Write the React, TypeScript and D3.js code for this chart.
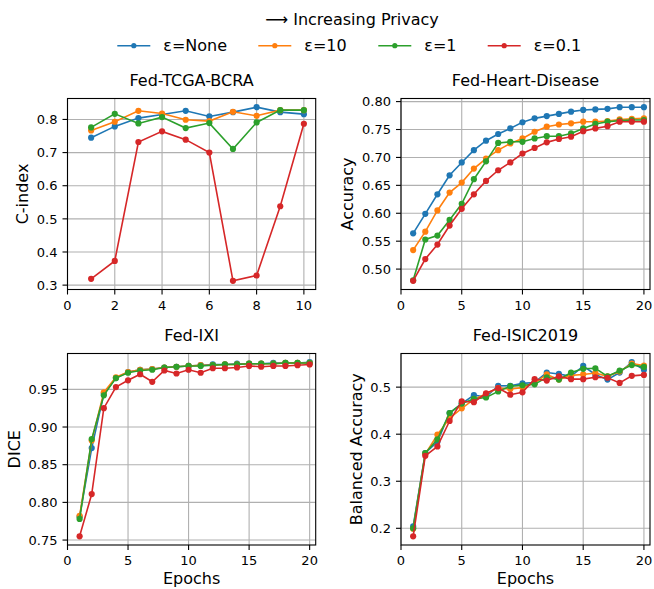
import * as d3 from "d3";

// epochs
const epochs10 = [1, 2, 3, 4, 5, 6, 7, 8, 9, 10];
const epochs20 = [1, 2, 3, 4, 5, 6, 7, 8, 9, 10, 11, 12, 13, 14, 15, 16, 17, 18, 19, 20];

const seriesNames = ["ε=None", "ε=10", "ε=1", "ε=0.1"];
const seriesColors = ["#1f77b4", "#ff7f0e", "#2ca02c", "#d62728"];

// Fed-TCGA-BCRA (C-index)
const tcgaNone = [0.745, 0.779, 0.804, 0.815, 0.826, 0.809, 0.822, 0.837, 0.822, 0.816];
const tcga10 = [0.767, 0.793, 0.826, 0.818, 0.799, 0.795, 0.823, 0.811, 0.828, 0.828];
const tcga1 = [0.776, 0.817, 0.788, 0.807, 0.774, 0.789, 0.711, 0.791, 0.828, 0.828];
const tcga01 = [0.319, 0.373, 0.732, 0.764, 0.739, 0.7, 0.313, 0.329, 0.538, 0.787];

// Fed-Heart-Disease (Accuracy)
const heartNone = [0.564, 0.599, 0.634, 0.668, 0.691, 0.713, 0.73, 0.742, 0.752, 0.763, 0.77, 0.774, 0.778, 0.782, 0.785, 0.786, 0.787, 0.79, 0.79, 0.79];
const heart10 = [0.534, 0.567, 0.605, 0.637, 0.655, 0.68, 0.698, 0.713, 0.725, 0.734, 0.746, 0.755, 0.759, 0.761, 0.764, 0.764, 0.765, 0.768, 0.769, 0.77];
const heart1 = [0.48, 0.553, 0.56, 0.588, 0.617, 0.661, 0.693, 0.726, 0.728, 0.728, 0.734, 0.738, 0.738, 0.743, 0.752, 0.76, 0.764, 0.766, 0.767, 0.767];
const heart01 = [0.479, 0.518, 0.544, 0.578, 0.608, 0.634, 0.658, 0.677, 0.691, 0.707, 0.717, 0.727, 0.733, 0.737, 0.747, 0.752, 0.756, 0.764, 0.764, 0.764];

// Fed-IXI (DICE)
const ixiNone = [0.781, 0.872, 0.944, 0.965, 0.973, 0.976, 0.977, 0.979, 0.98, 0.981, 0.982, 0.983, 0.983, 0.984, 0.984, 0.984, 0.985, 0.985, 0.985, 0.986];
const ixi10 = [0.782, 0.882, 0.946, 0.966, 0.973, 0.976, 0.977, 0.979, 0.98, 0.981, 0.982, 0.982, 0.983, 0.983, 0.984, 0.984, 0.984, 0.985, 0.985, 0.985];
const ixi1 = [0.778, 0.884, 0.942, 0.965, 0.972, 0.975, 0.976, 0.979, 0.98, 0.981, 0.981, 0.982, 0.983, 0.983, 0.984, 0.984, 0.984, 0.985, 0.985, 0.985];
const ixi01 = [0.755, 0.811, 0.925, 0.953, 0.962, 0.97, 0.96, 0.975, 0.971, 0.976, 0.972, 0.978, 0.978, 0.979, 0.981, 0.98, 0.981, 0.981, 0.982, 0.983];

// Fed-ISIC2019 (Balanced Accuracy)
const isicNone = [0.204, 0.36, 0.384, 0.445, 0.465, 0.483, 0.479, 0.503, 0.503, 0.508, 0.51, 0.531, 0.528, 0.523, 0.545, 0.527, 0.516, 0.531, 0.553, 0.537];
const isic10 = [0.199, 0.358, 0.399, 0.434, 0.455, 0.474, 0.486, 0.498, 0.496, 0.499, 0.509, 0.527, 0.516, 0.525, 0.527, 0.53, 0.523, 0.533, 0.55, 0.546];
const isic1 = [0.2, 0.36, 0.389, 0.445, 0.465, 0.475, 0.478, 0.491, 0.502, 0.504, 0.506, 0.521, 0.516, 0.531, 0.539, 0.54, 0.523, 0.535, 0.547, 0.543];
const isic01 = [0.183, 0.354, 0.374, 0.428, 0.47, 0.468, 0.487, 0.498, 0.484, 0.489, 0.517, 0.514, 0.523, 0.517, 0.517, 0.521, 0.52, 0.509, 0.524, 0.526];

// tick labels
const xTicks10 = [0, 2, 4, 6, 8, 10];
const xTicks20 = [0, 5, 10, 15, 20];
const yTicksTcga = [0.3, 0.4, 0.5, 0.6, 0.7, 0.8];
const yTicksHeart = [0.5, 0.55, 0.6, 0.65, 0.7, 0.75, 0.8];
const yTicksIxi = [0.75, 0.8, 0.85, 0.9, 0.95];
const yTicksIsic = [0.2, 0.3, 0.4, 0.5];

const W = 654;
const H = 589;
const FONT = "DejaVu Sans, sans-serif";
const TICK_FS = 13;
const LABEL_FS = 16;

const panels = [
  { title: "Fed-TCGA-BCRA", ylabel: "C-index", x: epochs10, series: [tcgaNone, tcga10, tcga1, tcga01], xTicks: xTicks10, xMax: 10.5, yTicks: yTicksTcga, yFmt: ".1f", box: [67.5, 98.5, 315.7, 289.5], xlabel: false },
  { title: "Fed-Heart-Disease", ylabel: "Accuracy", x: epochs20, series: [heartNone, heart10, heart1, heart01], xTicks: xTicks20, xMax: 20.5, yTicks: yTicksHeart, yFmt: ".2f", box: [401, 98.5, 650, 289.5], xlabel: false },
  { title: "Fed-IXI", ylabel: "DICE", x: epochs20, series: [ixiNone, ixi10, ixi1, ixi01], xTicks: xTicks20, xMax: 20.5, yTicks: yTicksIxi, yFmt: ".2f", box: [67.5, 353.5, 315.7, 545], xlabel: true },
  { title: "Fed-ISIC2019", ylabel: "Balanced Accuracy", x: epochs20, series: [isicNone, isic10, isic1, isic01], xTicks: xTicks20, xMax: 20.5, yTicks: yTicksIsic, yFmt: ".1f", box: [401, 353.5, 650, 545], xlabel: true },
];

// rough DejaVu Sans widths for tick labels
const textWidth = (s: string, fs: number) =>
  s.split("").reduce((a, c) => a + (c === "." ? 0.318 : 0.636), 0) * fs;

function Panel({ p }: { p: (typeof panels)[number] }) {
  const [x0, y0, x1, y1] = p.box;
  const all = p.series.flat();
  const lo = d3.min(all) as number;
  const hi = d3.max(all) as number;
  const pad = (hi - lo) * 0.05;
  const xs = d3.scaleLinear().domain([0, p.xMax]).range([x0, x1]);
  const ys = d3.scaleLinear().domain([lo - pad, hi + pad]).range([y1, y0]);
  const fmt = d3.format(p.yFmt);
  const line = d3
    .line<number>()
    .x((_, i) => xs(p.x[i]))
    .y((d) => ys(d));
  const maxW = d3.max(p.yTicks, (t) => textWidth(fmt(t), TICK_FS)) as number;
  const ylabX = x0 - 10 - maxW - 5.5 - LABEL_FS * 0.55;

  return (
    <g>
      {/* grid */}
      <g stroke="#b0b0b0" strokeWidth={1.1}>
        {p.xTicks.map((t) => (
          <line key={"gx" + t} x1={xs(t)} x2={xs(t)} y1={y0} y2={y1} />
        ))}
        {p.yTicks.map((t) => (
          <line key={"gy" + t} x1={x0} x2={x1} y1={ys(t)} y2={ys(t)} />
        ))}
      </g>
      {/* series */}
      {p.series.map((s, k) => (
        <g key={k}>
          <path d={line(s) ?? ""} fill="none" stroke={seriesColors[k]} strokeWidth={1.6} />
          {s.map((v, i) => (
            <circle key={i} cx={xs(p.x[i])} cy={ys(v)} r={3.1} fill={seriesColors[k]} />
          ))}
        </g>
      ))}
      {/* frame */}
      <rect x={x0} y={y0} width={x1 - x0} height={y1 - y0} fill="none" stroke="#000" strokeWidth={1.1} />
      {/* x ticks */}
      {p.xTicks.map((t) => (
        <g key={"tx" + t}>
          <line x1={xs(t)} x2={xs(t)} y1={y1} y2={y1 + 5} stroke="#000" strokeWidth={1.1} />
          <text x={xs(t)} y={y1 + 20} textAnchor="middle" fontSize={TICK_FS} fontFamily={FONT}>
            {t}
          </text>
        </g>
      ))}
      {/* y ticks */}
      {p.yTicks.map((t) => (
        <g key={"ty" + t}>
          <line x1={x0 - 5} x2={x0} y1={ys(t)} y2={ys(t)} stroke="#000" strokeWidth={1.1} />
          <text x={x0 - 10} y={ys(t)} dy="0.36em" textAnchor="end" fontSize={TICK_FS} fontFamily={FONT}>
            {fmt(t)}
          </text>
        </g>
      ))}
      <text x={(x0 + x1) / 2} y={y0 - 12.5} textAnchor="middle" fontSize={LABEL_FS} fontFamily={FONT}>
        {p.title}
      </text>
      <text
        transform={`translate(${ylabX},${(y0 + y1) / 2}) rotate(-90)`}
        dy="0.35em"
        textAnchor="middle"
        fontSize={LABEL_FS}
        fontFamily={FONT}
      >
        {p.ylabel}
      </text>
      {p.xlabel && (
        <text x={(x0 + x1) / 2} y={584} textAnchor="middle" fontSize={LABEL_FS} fontFamily={FONT}>
          Epochs
        </text>
      )}
    </g>
  );
}

export default function App() {
  const legendX = [117.3, 258.3, 378.3, 487.7];
  return (
    <svg width={W} height={H} style={{ position: "absolute", left: 0, top: 0, background: "#fff" }}>
      <rect width={W} height={H} fill="#fff" />
      <text x={352} y={24.5} textAnchor="middle" fontSize={LABEL_FS} fontFamily={FONT}>
        ⟶ Increasing Privacy
      </text>
      {seriesNames.map((name, k) => (
        <g key={name} transform={`translate(${legendX[k]},45.7)`}>
          <line x1={0} x2={33} y1={0} y2={0} stroke={seriesColors[k]} strokeWidth={1.6} />
          <circle cx={16.5} cy={0} r={2.6} fill={seriesColors[k]} />
          <text x={46} y={0} dy="0.36em" fontSize={LABEL_FS} fontFamily={FONT}>
            {name}
          </text>
        </g>
      ))}
      {panels.map((p) => (
        <Panel key={p.title} p={p} />
      ))}
    </svg>
  );
}
